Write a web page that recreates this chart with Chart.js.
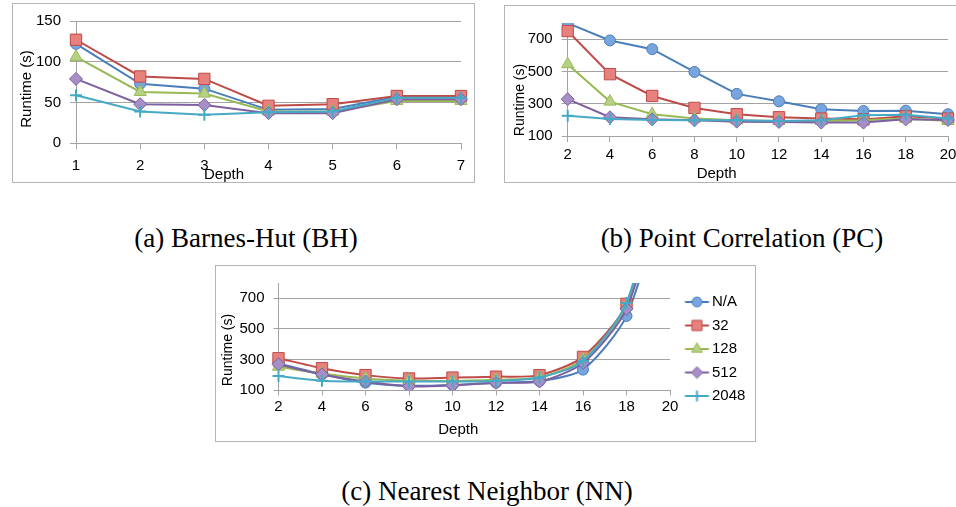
<!DOCTYPE html>
<html><head><meta charset="utf-8">
<script src="https://cdn.jsdelivr.net/npm/chart.js@4.4.0/dist/chart.umd.min.js"></script>
<style>
html,body{margin:0;padding:0;background:#fff;}
body{width:956px;height:507px;overflow:hidden;position:relative;}
.cv{position:absolute;}
.box{position:absolute;border:1px solid #b4b4b4;box-sizing:border-box;pointer-events:none;}
.cap{position:absolute;width:400px;text-align:center;font-family:'Liberation Serif','Times New Roman',serif;font-size:27px;line-height:27px;color:#000;white-space:nowrap;}
</style></head><body>
<canvas id="cA" class="cv" width="463" height="180" style="left:12px;top:3px"></canvas>
<div class="box" style="left:12px;top:3px;width:463px;height:180px"></div>
<canvas id="cB" class="cv" width="460" height="178" style="left:504px;top:5px"></canvas>
<div class="box" style="left:504px;top:5px;width:460px;height:178px"></div>
<canvas id="cC" class="cv" width="541" height="177" style="left:215px;top:265px"></canvas>
<div class="box" style="left:215px;top:265px;width:541px;height:177px"></div>
<div class="cap" style="left:46px;top:225px">(a) Barnes-Hut (BH)</div>
<div class="cap" style="left:542px;top:225px">(b) Point Correlation (PC)</div>
<div class="cap" style="left:287px;top:478px">(c) Nearest Neighbor (NN)</div>
<script>
// ---- data ----
const seriesNames = ['N/A', '32', '128', '512', '2048'];

const depthBH = ['1', '2', '3', '4', '5', '6', '7'];
const bhNA   = [122, 73, 67, 41, 42, 57, 57];
const bh32   = [127, 82, 79, 46, 48, 58, 58];
const bh128  = [106, 63, 61, 39, 39, 52, 52];
const bh512  = [79, 48, 47, 37, 37, 54, 54];
const bh2048 = [59, 39, 35, 38, 39, 56, 56];
const yTicksBH = [0, 50, 100, 150];

const depthPC = ['2', '4', '6', '8', '10', '12', '14', '16', '18', '20'];
const pcNA   = [799, 692, 638, 497, 361, 315, 266, 255, 257, 235];
const pc32   = [750, 483, 348, 274, 235, 216, 208, 203, 222, 208];
const pc128  = [545, 313, 235, 208, 197, 193, 193, 197, 208, 193];
const pc512  = [328, 216, 203, 197, 189, 187, 183, 183, 203, 199];
const pc2048 = [226, 206, 199, 197, 197, 193, 197, 228, 232, 208];
const yTicksPC = [100, 300, 500, 700];

const depthNN = ['2', '4', '6', '8', '10', '12', '14', '16', '18', '20'];
const nnNA   = [275, 205, 150, 130, 135, 150, 160, 235, 585, 1500];
const nn32   = [309, 244, 199, 177, 183, 189, 199, 318, 664, 1700];
const nn128  = [254, 209, 177, 163, 161, 169, 183, 301, 650, 1650];
const nn512  = [270, 203, 157, 126, 132, 149, 157, 278, 631, 1600];
const nn2048 = [193, 163, 157, 157, 157, 161, 183, 290, 670, 1750];
const yTicksNN = [100, 300, 500, 700];

// ---- styles ----
const GRID = '#a3a3a3';
const STY = [
  {line:'#4a7ebb', fill:'#78a5de', shape:'circle',   r:5.5, bw:1},
  {line:'#be4b48', fill:'#e6817e', shape:'rect',     r:8,   bw:1},
  {line:'#98b954', fill:'#b6d183', shape:'triangle', r:7,   bw:1},
  {line:'#7d60a0', fill:'#a58fc6', shape:'rectRot',  r:6.5, bw:1},
  {line:'#46aac5', fill:'#46aac5', shape:'cross',    r:6,   bw:2}
];
Chart.defaults.font.family = "'Liberation Sans', Arial, sans-serif";
Chart.defaults.font.size = 15;
Chart.defaults.color = '#000';

function mkSets(series, tension) {
  return series.map((v, i) => ({
    label: seriesNames[i], data: v,
    borderColor: STY[i].line, backgroundColor: STY[i].fill,
    borderWidth: 2, tension: tension,
    pointStyle: STY[i].shape, pointRadius: STY[i].r, pointHoverRadius: STY[i].r,
    pointBackgroundColor: STY[i].fill, pointBorderColor: STY[i].line,
    pointBorderWidth: STY[i].bw,
    order: series.length - i
  }));
}

function scalesCfg(yMin, yMax, yTicks, yW, xH, xPad, tl) {
  return {
    x: {
      type: 'category', offset: false,
      grid: {drawOnChartArea: false, drawTicks: true, tickLength: tl, color: GRID, tickColor: GRID},
      border: {display: true, color: GRID, width: 1},
      ticks: {padding: xPad, maxRotation: 0, minRotation: 0, autoSkip: false, font: {size: 15}},
      afterFit(s) { s.height = xH; }
    },
    y: {
      min: yMin, max: yMax,
      afterBuildTicks(s) { s.ticks = yTicks.map(v => ({value: v})); },
      grid: {color: GRID, tickColor: GRID, tickLength: tl, drawTicks: true},
      border: {display: true, color: GRID, width: 1},
      ticks: {padding: 9, font: {size: 15}},
      afterFit(s) { s.width = yW; }
    }
  };
}

const axisTitles = {
  id: 'axisTitles',
  afterDraw(chart, args, o) {
    const ctx = chart.ctx;
    ctx.save();
    ctx.fillStyle = '#000';
    ctx.textAlign = 'center';
    ctx.textBaseline = 'middle';
    ctx.font = o.xSize + "px 'Liberation Sans', Arial, sans-serif";
    ctx.fillText(o.xText, o.xAt[0], o.xAt[1]);
    ctx.translate(o.yAt[0], o.yAt[1]);
    ctx.rotate(-Math.PI / 2);
    ctx.font = o.ySize + "px 'Liberation Sans', Arial, sans-serif";
    ctx.fillText(o.yText, 0, 0);
    ctx.restore();
  }
};

function baseOpts(padding, scales, titles, legend) {
  return {
    responsive: false, animation: false, devicePixelRatio: 1, events: [],
    layout: {padding: padding},
    scales: scales,
    plugins: {
      legend: legend || {display: false},
      tooltip: {enabled: false},
      axisTitles: titles
    }
  };
}

// Chart (a)
new Chart(document.getElementById('cA'), {
  type: 'line',
  data: {labels: depthBH, datasets: mkSets([bhNA, bh32, bh128, bh512, bh2048], 0)},
  options: baseOpts({left: 0, top: 12.7, right: 14, bottom: 0},
    scalesCfg(0, 150, yTicksBH, 64, 39.7, 8, 6),
    {xText: 'Depth', xAt: [212, 171.5], xSize: 15, yText: 'Runtime (s)', yAt: [15, 86], ySize: 15}),
  plugins: [axisTitles]
});

// Chart (b)
new Chart(document.getElementById('cB'), {
  type: 'line',
  data: {labels: depthPC, datasets: mkSets([pcNA, pc32, pc128, pc512, pc2048], 0)},
  options: baseOpts({left: 0, top: 10.5, right: 16, bottom: 0},
    scalesCfg(100, 800, yTicksPC, 63.7, 47, 4, 6),
    {xText: 'Depth', xAt: [212.7, 169], xSize: 15, yText: 'Runtime (s)', yAt: [16, 95], ySize: 14}),
  plugins: [axisTitles]
});

// legend icons: line with marker
function drawShape(g, shape, x, y, r) {
  g.beginPath();
  if (shape === 'circle') { g.arc(x, y, r, 0, Math.PI * 2); }
  else if (shape === 'rect') { const s = r * Math.SQRT1_2; g.rect(x - s, y - s, 2 * s, 2 * s); }
  else if (shape === 'triangle') {
    let a = 0;
    for (let k = 0; k < 3; k++) { const px = x + Math.sin(a) * r, py = y - Math.cos(a) * r; k ? g.lineTo(px, py) : g.moveTo(px, py); a += 2 * Math.PI / 3; }
    g.closePath();
  }
  else if (shape === 'rectRot') { g.moveTo(x - r, y); g.lineTo(x, y - r); g.lineTo(x + r, y); g.lineTo(x, y + r); g.closePath(); }
  else if (shape === 'cross') { g.moveTo(x, y - r); g.lineTo(x, y + r); g.moveTo(x - r, y); g.lineTo(x + r, y); g.stroke(); return; }
  g.fill(); g.stroke();
}
function makeIcon(i) {
  const c = document.createElement('canvas');
  c.width = 40; c.height = 16;
  const g = c.getContext('2d');
  g.strokeStyle = STY[i].line; g.lineWidth = 2;
  g.beginPath(); g.moveTo(13.5, 8); g.lineTo(37.5, 8); g.stroke();
  g.fillStyle = STY[i].fill; g.lineWidth = STY[i].bw;
  drawShape(g, STY[i].shape, 25.5, 8, STY[i].r * 0.9);
  return c;
}
const icons = seriesNames.map((n, i) => makeIcon(i));

// Chart (c)
new Chart(document.getElementById('cC'), {
  type: 'line',
  data: {labels: depthNN, datasets: mkSets([nnNA, nn32, nn128, nn512, nn2048], 0.25)},
  options: baseOpts({left: 0, top: 10, right: 6, bottom: 19},
    scalesCfg(100, 800, yTicksNN, 63.5, 32.7, 3, 5),
    {xText: 'Depth', xAt: [243.3, 165], xSize: 15, yText: 'Runtime (s)', yAt: [13.3, 85], ySize: 14},
    {
      display: true, position: 'right', align: 'center', maxWidth: 80,
      labels: {
        usePointStyle: true, pointStyleWidth: 26, padding: 8.5, font: {size: 15}, color: '#000',
        generateLabels(chart) {
          return chart.data.datasets.map((ds, i) => ({
            text: ds.label, pointStyle: icons[i], fillStyle: STY[i].fill,
            strokeStyle: STY[i].line, lineWidth: 0, hidden: false, datasetIndex: i, fontColor: '#000'
          }));
        }
      }
    }),
  plugins: [axisTitles]
});
</script>
</body></html>
